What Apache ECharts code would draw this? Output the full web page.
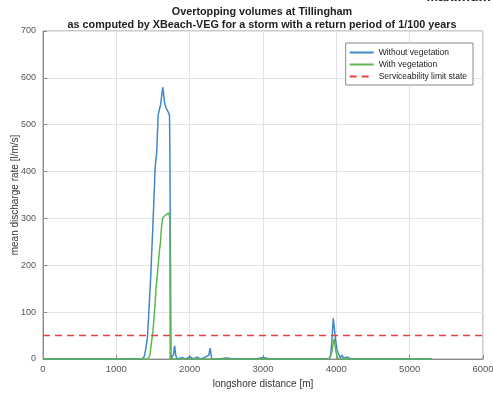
<!DOCTYPE html>
<html><head><meta charset="utf-8">
<script src="https://cdn.jsdelivr.net/npm/echarts@6/dist/echarts.min.js"></script>
<style>html,body{margin:0;padding:0;background:#fff}#c{width:493px;height:396px}</style>
</head><body><div id="c"></div>
<script>
const distance = [0,500,1000,1300,1350,1380,1400,1425,1440,1450,1460,1470,1500,1530,1540,1550,1570,1590,1600,1610,1625,1635,1645,1660,1680,1700,1715,1725,1730,1735,1745,1760,1780,1795,1810,1830,1900,1950,2000,2050,2100,2150,2200,2260,2280,2300,2400,2500,2600,2700,2800,2900,3000,3100,3200,3300,3400,3500,3600,3700,3800,3900,3920,3940,3958,3970,3990,4010,4030,4057,4080,4100,4120,4150,4170,4200,4300,4500,4700,5000,5300];
const withoutVeg = [0,0,0,0,0,5,20,48,90,120,150,180,290,410,425,440,520,535,540,550,570,580,565,545,535,530,530,520,450,300,0,0,10,28,8,0,3,0,5,0,4,0,3,8,23,0,0,2,0,0,0,0,3,0,0,0,0,0,0,0,0,0,5,40,87,70,40,20,10,3,8,2,0,4,0,0,0,0,0,0,0];
const withVeg = [0,0,0,0,0,0,0,0,0,5,10,25,60,120,150,165,200,235,245,270,295,302,305,306,308,310,312,315,300,0,0,0,0,0,0,0,0,0,0,0,0,0,0,0,0,0,0,0,0,0,0,0,0,0,0,0,0,0,0,0,0,0,0,15,35,43,20,5,0,0,0,0,0,0,0,0,0,0,0,0,0];
const limitX = [0,6000];
const limitY = [50,50];
const titleLines = ['Overtopping volumes at Tillingham','as computed by XBeach-VEG for a storm with a return period of 1/100 years'];
const seriesNames = ['Without vegetation','With vegetation','Serviceability limit state'];

const font = '"Liberation Sans", Arial, sans-serif';
const chart = echarts.init(document.getElementById('c'));
chart.setOption({
  animation:false,
  backgroundColor:'#fff',
  textStyle:{fontFamily:font},
  graphic:[
    {type:'text', right:2, top:-10, style:{text:'Maximum', font:'bold 14px '+font, fill:'#222'}},
    {type:'text', x:262, y:12, style:{text:titleLines[0], font:'bold 10.8px '+font, fill:'#222', textAlign:'center', textVerticalAlign:'middle'}},
    {type:'text', x:262, y:25, style:{text:titleLines[1], font:'bold 10.8px '+font, fill:'#222', textAlign:'center', textVerticalAlign:'middle'}}
  ],
  grid:{left:43, right:10, top:31, bottom:37, outerBoundsMode:'none', containLabel:false, show:true, borderColor:'#9a9a9a', borderWidth:1},
  legend:{
    orient:'vertical', right:20, top:43, data:seriesNames,
    backgroundColor:'#fff', borderColor:'#8a8a8a', borderWidth:1, borderRadius:0,
    padding:[5,6,4,3], itemGap:3, itemWidth:24, itemHeight:10,
    itemStyle:{opacity:0},
    textStyle:{fontSize:8.5, color:'#222', fontFamily:font}
  },
  xAxis:{
    type:'value', min:0, max:6000, interval:1000,
    name:'longshore distance [m]', nameLocation:'middle', nameGap:19,
    nameTextStyle:{fontSize:10, color:'#333'},
    axisLine:{show:true, lineStyle:{color:'#8a8a8a'}},
    axisTick:{show:true, inside:true, length:4, lineStyle:{color:'#8a8a8a'}},
    axisLabel:{fontSize:9.5, color:'#555', margin:5, formatter:v=>String(v)},
    splitLine:{show:true, lineStyle:{color:'#e3e3e3'}}
  },
  yAxis:{
    type:'value', min:0, max:700, interval:100,
    name:'mean discharge rate [l/m/s]', nameLocation:'middle', nameGap:23, nameMoveOverlap:false,
    nameTextStyle:{fontSize:10, color:'#333'},
    axisLine:{show:true, lineStyle:{color:'#8a8a8a'}},
    axisTick:{show:true, inside:true, length:4, lineStyle:{color:'#8a8a8a'}},
    axisLabel:{fontSize:9, color:'#555', margin:7, formatter:v=>String(v)},
    splitLine:{show:true, lineStyle:{color:'#e3e3e3'}}
  },
  series:[
    {name:seriesNames[0], type:'line', symbol:'none', z:3,
     data: distance.map((d,i)=>[d,withoutVeg[i]]),
     lineStyle:{color:'#3f87c8', width:1.5}, itemStyle:{color:'#3f87c8'}},
    {name:seriesNames[1], type:'line', symbol:'none', z:4,
     data: distance.map((d,i)=>[d,withVeg[i]]),
     lineStyle:{color:'#5cb84e', width:1.5}, itemStyle:{color:'#5cb84e'}},
    {name:seriesNames[2], type:'line', symbol:'none', z:5,
     data: limitX.map((d,i)=>[d,limitY[i]]),
     lineStyle:{color:'#ee3e3e', width:1.5, type:[7,5]}, itemStyle:{color:'#ee3e3e'}}
  ]
});
</script></body></html>
